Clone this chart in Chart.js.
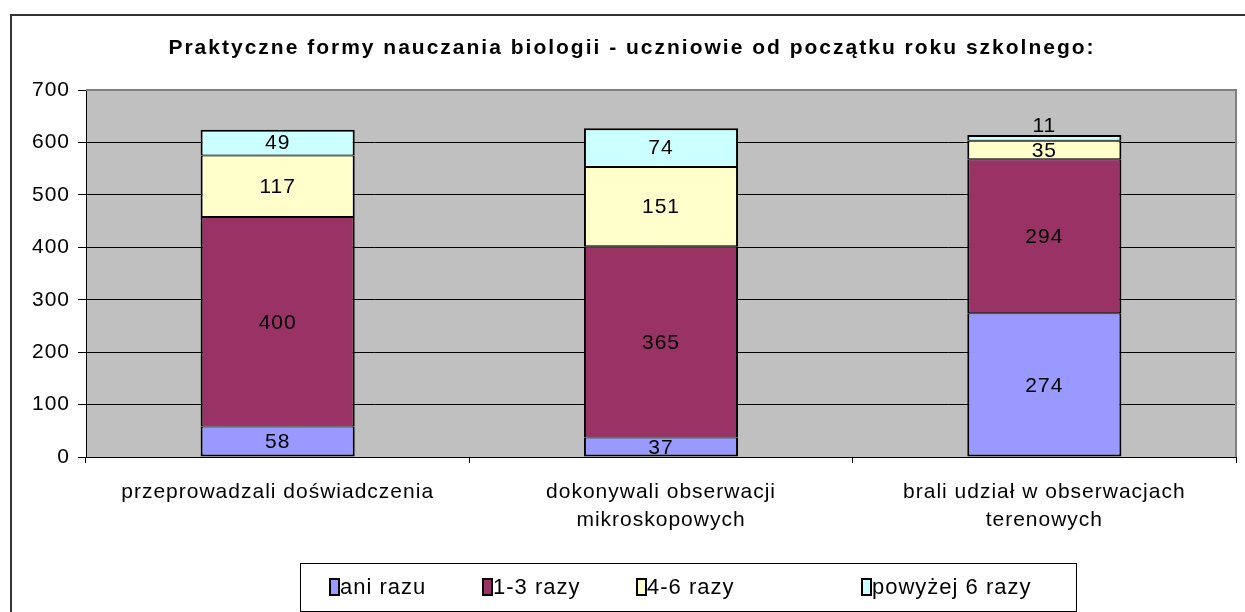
<!DOCTYPE html>
<html lang="pl">
<head>
    <meta charset="UTF-8" />
    <title>Praktyczne formy nauczania biologii</title>
    <script src="https://cdn.jsdelivr.net/npm/chart.js"></script>
    <style>
        body { margin: 0; background: #fff; }
        #wrap { width: 1245px; height: 612px; }
    </style>
</head>
<body>
    <div id="wrap"><canvas id="chart" width="1245" height="612"></canvas></div>

    <script>
        const categories = [
            ['przeprowadzali doświadczenia'],
            ['dokonywali obserwacji', 'mikroskopowych'],
            ['brali udział w obserwacjach', 'terenowych']
        ];
        const seriesNames = ['ani razu', '1-3 razy', '4-6 razy', 'powyżej 6 razy'];
        const aniRazu = [58, 37, 274];
        const razy13 = [400, 365, 294];
        const razy46 = [117, 151, 35];
        const powyzej6 = [49, 74, 11];
        const seriesColors = ['#9999FF', '#993366', '#FFFFCC', '#CCFFFF'];
        const titleText = 'Praktyczne formy nauczania biologii - uczniowie od początku roku szkolnego:';

        const FONT = '"Liberation Sans", Arial, sans-serif';

        // frame, plot background, title, labels and legend box
        const excelLook = {
            id: 'excelLook',
            beforeDraw(chart) {
                const { ctx, chartArea: a } = chart;
                // Excel-like wide text for everything chart.js draws
                ctx.letterSpacing = '1px';
                ctx.save();
                ctx.fillStyle = '#C0C0C0';
                ctx.fillRect(a.left, a.top, a.right - a.left, a.bottom - a.top);
                ctx.restore();
            },
            afterDatasetsDraw(chart) {
                const { ctx, chartArea: a } = chart;
                ctx.save();
                // plot border (gray top/right)
                ctx.strokeStyle = '#808080';
                ctx.lineWidth = 2;
                ctx.beginPath();
                ctx.moveTo(a.left, a.top);
                ctx.lineTo(a.right, a.top);
                ctx.lineTo(a.right, a.bottom);
                ctx.stroke();

                // value labels
                ctx.fillStyle = '#000';
                ctx.font = '21px ' + FONT;
                ctx.letterSpacing = '1px';
                ctx.textAlign = 'center';
                ctx.textBaseline = 'middle';
                const n = chart.data.labels.length;
                for (let i = 0; i < n; i++) {
                    let topY = Infinity;
                    chart.data.datasets.forEach((ds, d) => {
                        const bar = chart.getDatasetMeta(d).data[i];
                        topY = Math.min(topY, bar.y);
                    });
                    chart.data.datasets.forEach((ds, d) => {
                        const bar = chart.getDatasetMeta(d).data[i];
                        const h = bar.base - bar.y;
                        let y = (bar.y + bar.base) / 2;
                        if (h < 8) y = topY - 10;
                        ctx.fillText(String(ds.data[i]), bar.x, y + 1);
                    });
                }
                ctx.restore();
            },
            afterDraw(chart) {
                const { ctx } = chart;
                ctx.save();
                // outer frame
                ctx.strokeStyle = '#333';
                ctx.lineWidth = 2;
                ctx.strokeRect(11, 15, 1400, 800);

                // title
                ctx.fillStyle = '#000';
                ctx.font = 'bold 21px ' + FONT;
                ctx.letterSpacing = '2px';
                ctx.textAlign = 'center';
                ctx.textBaseline = 'middle';
                ctx.fillText(titleText, 632, 48);

                // legend
                ctx.letterSpacing = '1px';
                ctx.fillStyle = '#fff';
                ctx.fillRect(300, 563, 776, 48);
                ctx.strokeStyle = '#000';
                ctx.lineWidth = 1;
                ctx.strokeRect(300.5, 563.5, 776, 48);
                const keyX = [330, 483, 637, 862];
                ctx.font = '22px ' + FONT;
                ctx.textAlign = 'left';
                seriesNames.forEach((name, k) => {
                    ctx.fillStyle = seriesColors[k];
                    ctx.fillRect(keyX[k], 579, 9, 16);
                    ctx.lineWidth = 2;
                    ctx.strokeRect(keyX[k], 579, 9, 16);
                    ctx.fillStyle = '#000';
                    ctx.fillText(name, keyX[k] + 10, 588);
                });
                ctx.restore();
            }
        };

        const seriesData = [aniRazu, razy13, razy46, powyzej6];
        const last = seriesNames.length - 1;

        new Chart(document.getElementById('chart'), {
            type: 'bar',
            data: {
                labels: categories,
                datasets: seriesNames.map((name, k) => ({
                    label: name,
                    data: seriesData[k],
                    backgroundColor: seriesColors[k],
                    borderColor: '#000',
                    borderWidth: { left: 2, right: 2, top: k === last ? 2 : 1, bottom: k === 0 ? 2 : 1 },
                    borderSkipped: false,
                    barPercentage: 0.402,
                    categoryPercentage: 1
                }))
            },
            options: {
                responsive: false,
                animation: false,
                layout: { padding: { left: 0, top: 90, right: 9, bottom: 0 } },
                plugins: {
                    legend: { display: false },
                    title: { display: false },
                    tooltip: { enabled: false }
                },
                scales: {
                    x: {
                        stacked: true,
                        afterFit: (s) => { s.height = 155; },
                        grid: {
                            offset: true,
                            drawOnChartArea: false,
                            color: '#000',
                            tickLength: 6,
                            tickColor: '#000'
                        },
                        border: { color: '#000', width: 1 },
                        ticks: {
                            color: '#000',
                            font: { family: FONT, size: 21, lineHeight: 1.3 },
                            padding: 16,
                            maxRotation: 0
                        }
                    },
                    y: {
                        stacked: true,
                        min: 0,
                        max: 700,
                        afterFit: (s) => { s.width = 86; },
                        grid: {
                            color: '#000',
                            tickLength: 8,
                            tickColor: '#000'
                        },
                        border: { color: '#000', width: 1 },
                        ticks: {
                            stepSize: 100,
                            color: '#000',
                            font: { family: FONT, size: 21 },
                            padding: 8
                        }
                    }
                }
            },
            plugins: [excelLook]
        });
    </script>
</body>
</html>
